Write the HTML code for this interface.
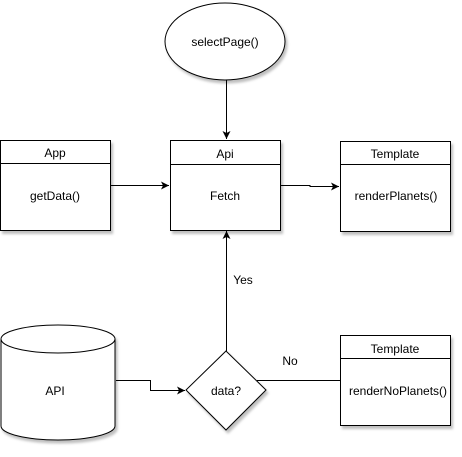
<!DOCTYPE html>
<html><head><meta charset="utf-8"><style>html,body{margin:0;padding:0;background:#fff}</style></head><body>
<svg width="462" height="452" viewBox="0 0 462 452" xmlns="http://www.w3.org/2000/svg" font-family="Liberation Sans, sans-serif" font-size="12">
<defs>
<filter id="sh" x="-10%" y="-10%" width="130%" height="130%"><feDropShadow dx="2" dy="3" stdDeviation="1.2" flood-color="#000" flood-opacity="0.25"/></filter>
<marker id="a" markerWidth="10" markerHeight="10" refX="8" refY="4" orient="auto" markerUnits="userSpaceOnUse"><path d="M0,0 L8,4 L0,8 L2,4 Z" fill="#000"/></marker>
</defs>
<g fill="#fff" stroke="#000" stroke-width="1" filter="url(#sh)">
<ellipse cx="225" cy="41.5" rx="60" ry="38.5"/>
<rect x="0.5" y="140.5" width="110" height="90"/>
<rect x="170.5" y="140.5" width="110" height="90"/>
<rect x="340.5" y="141.5" width="110" height="90"/>
<rect x="340.5" y="335.5" width="110" height="90"/>
<path d="M1,339 A57,14 0 0 1 115,339 L115,426 A57,14 0 0 1 1,426 Z"/>
<path d="M226,351 L266,390 L226,430 L186,390 Z"/>
</g>
<g fill="none" stroke="#000">
<path d="M1,339 A57,14 0 0 0 115,339"/>
<line x1="0.5" y1="163.5" x2="110.5" y2="163.5"/>
<line x1="170.5" y1="164.5" x2="280.5" y2="164.5"/>
<line x1="340.5" y1="164.5" x2="450.5" y2="164.5"/>
<line x1="340.5" y1="358.5" x2="450.5" y2="358.5"/>
<path d="M226.5,80 L226.5,139" marker-end="url(#a)"/>
<path d="M110,185.5 L169,185.5" marker-end="url(#a)"/>
<path d="M281,185.5 L310,185.5 L310,186.5 L339,186.5" marker-end="url(#a)"/>
<path d="M226.5,351 L226.5,231" marker-end="url(#a)"/>
<path d="M116,380.5 L150.5,380.5 L150.5,390.5 L185,390.5" marker-end="url(#a)"/>
<path d="M257,380.5 L340,380.5"/>
</g>
<g fill="#000" text-anchor="middle">
<text x="225" y="46">selectPage()</text>
<text x="55" y="157">App</text>
<text x="55" y="200">getData()</text>
<text x="225" y="158">Api</text>
<text x="225" y="200">Fetch</text>
<text x="395" y="158">Template</text>
<text x="396" y="200">renderPlanets()</text>
<text x="395" y="353">Template</text>
<text x="398" y="395">renderNoPlanets()</text>
<text x="55" y="395">API</text>
<text x="226" y="395">data?</text>
<text x="243" y="284">Yes</text>
<text x="290" y="365">No</text>
</g>
</svg>
</body></html>
